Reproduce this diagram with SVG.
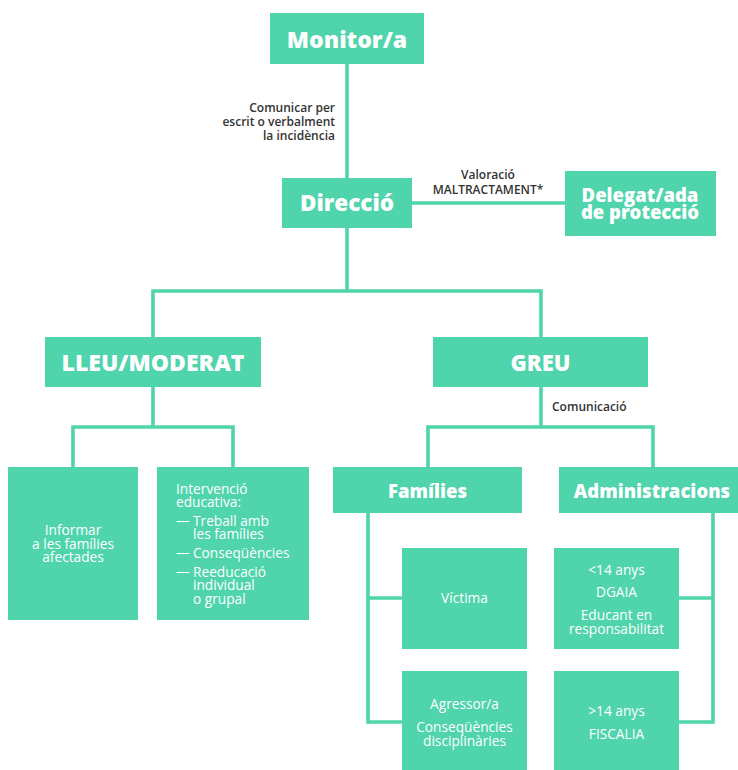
<svg xmlns="http://www.w3.org/2000/svg" width="738" height="770" viewBox="0 0 738 770">
<style>
.box{fill:#4fd4ab;}
.ln{stroke:#4fd4ab;stroke-width:3.6;fill:none;stroke-linecap:square;}
.t{font-family:"Open Sans","Noto Sans",sans-serif;fill:#fff;font-weight:800;text-anchor:middle;}
.b{font-family:"Open Sans","Noto Sans",sans-serif;fill:#fff;font-weight:400;font-size:13.7px;}
.c{text-anchor:middle;}
.lab{font-family:"Open Sans","Noto Sans",sans-serif;fill:#333;font-weight:600;font-size:12px;}
</style>
<rect width="738" height="770" fill="#fff"/>
<g id="connectors">
<path class="ln" d="M347 64V178"/>
<path class="ln" d="M412 203H565"/>
<path class="ln" d="M347 228V291M153 337V291H541V337"/>
<path class="ln" d="M153 387V427M73 467V427H233V467"/>
<path class="ln" d="M541 387V427M428 467V427H653V467"/>
<path class="ln" d="M368 513V722M368 598H402M368 722H402"/>
<path class="ln" d="M713 513V722M679 598H713M679 722H713"/>
<text class="lab" text-anchor="end" x="335" y="112">Comunicar per</text>
<text class="lab" text-anchor="end" x="335" y="126">escrit o verbalment</text>
<text class="lab" text-anchor="end" x="335" y="140">la incidència</text>
<text class="lab" text-anchor="middle" x="488" y="179">Valoració</text>
<text class="lab" text-anchor="middle" x="488" y="193.5">MALTRACTAMENT*</text>
<text class="lab" x="552" y="411">Comunicació</text>
</g>
<g id="monitor">
<rect class="box" x="270" y="13" width="154" height="51"/>
<text class="t" x="347" y="47.5" font-size="23">Monitor/a</text>
</g>
<g id="direccio">
<rect class="box" x="282" y="178" width="130" height="50"/>
<text class="t" x="347" y="211" font-size="22.5">Direcció</text>
</g>
<g id="delegat">
<rect class="box" x="565" y="171" width="151" height="65"/>
<text class="t" x="640" y="202" font-size="18.5">Delegat/ada</text>
<text class="t" x="640" y="219" font-size="18.5">de protecció</text>
</g>
<g id="lleu">
<rect class="box" x="45" y="337" width="216" height="50"/>
<text class="t" x="153" y="371" font-size="23">LLEU/MODERAT</text>
</g>
<g id="greu">
<rect class="box" x="433" y="337" width="215" height="50"/>
<text class="t" x="540.5" y="371" font-size="22">GREU</text>
</g>
<g id="informar">
<rect class="box" x="8" y="467" width="130" height="153"/>
<text class="b c" x="73" y="535">Informar</text>
<text class="b c" x="73" y="548.5">a les famílies</text>
<text class="b c" x="73" y="562">afectades</text>
</g>
<g id="intervencio">
<rect class="box" x="157" y="467" width="152" height="153"/>
<text class="b" x="176" y="493.5">Intervenció</text>
<text class="b" x="176" y="507">educativa:</text>
<text class="b" x="176" y="525.5">—</text>
<text class="b" x="193" y="525.5">Treball amb</text>
<text class="b" x="193" y="539">les famílies</text>
<text class="b" x="176" y="557.5">—</text>
<text class="b" x="193" y="557.5">Conseqüències</text>
<text class="b" x="176" y="576.5">—</text>
<text class="b" x="193" y="576.5">Reeducació</text>
<text class="b" x="193" y="590">individual</text>
<text class="b" x="193" y="603.5">o grupal</text>
</g>
<g id="families">
<rect class="box" x="333" y="467" width="189" height="46"/>
<text class="t" x="427.5" y="498" font-size="18.5">Famílies</text>
</g>
<g id="administracions">
<rect class="box" x="559" y="467" width="179" height="46"/>
<text class="t" x="652" y="498" font-size="18.5">Administracions</text>
</g>
<g id="victima">
<rect class="box" x="402" y="548" width="125" height="101"/>
<text class="b c" x="464.5" y="603">Víctima</text>
</g>
<g id="agressor">
<rect class="box" x="402" y="671" width="125" height="99"/>
<text class="b c" x="464.5" y="709">Agressor/a</text>
<text class="b c" x="464.5" y="732">Conseqüències</text>
<text class="b c" x="464.5" y="746">disciplinàries</text>
</g>
<g id="dgaia">
<rect class="box" x="554" y="548" width="125" height="101"/>
<text class="b c" x="616.5" y="575">&lt;14 anys</text>
<text class="b c" x="616.5" y="597">DGAIA</text>
<text class="b c" x="616.5" y="620">Educant en</text>
<text class="b c" x="616.5" y="634">responsabilitat</text>
</g>
<g id="fiscalia">
<rect class="box" x="554" y="671" width="125" height="99"/>
<text class="b c" x="616.5" y="716">&gt;14 anys</text>
<text class="b c" x="616.5" y="739">FISCALIA</text>
</g>
</svg>
